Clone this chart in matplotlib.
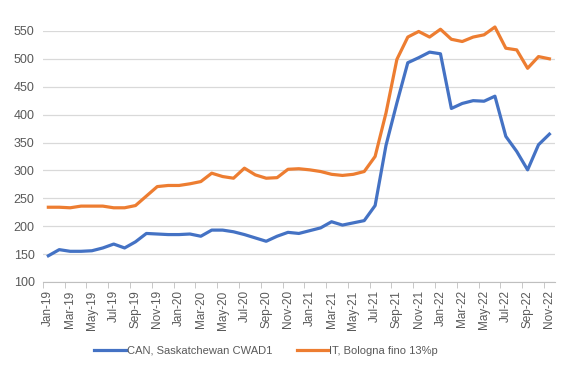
import matplotlib
matplotlib.use("Agg")
import matplotlib.pyplot as plt
import numpy as np

months = ["Jan-19","Feb-19","Mar-19","Apr-19","May-19","Jun-19","Jul-19","Aug-19","Sep-19","Oct-19","Nov-19","Dec-19",
          "Jan-20","Feb-20","Mar-20","Apr-20","May-20","Jun-20","Jul-20","Aug-20","Sep-20","Oct-20","Nov-20","Dec-20",
          "Jan-21","Feb-21","Mar-21","Apr-21","May-21","Jun-21","Jul-21","Aug-21","Sep-21","Oct-21","Nov-21","Dec-21",
          "Jan-22","Feb-22","Mar-22","Apr-22","May-22","Jun-22","Jul-22","Aug-22","Sep-22","Oct-22","Nov-22"]

can = [147,158,155,155,156,161,168,161,172,187,186,185,
       185,186,182,193,193,190,185,179,173,182,189,187,
       192,197,208,202,206,210,237,345,421,493,502,512,
       509,411,420,425,424,433,361,334,301,346,365]

it = [234,234,233,236,236,236,233,233,237,254,271,273,
      273,276,280,295,289,286,304,292,286,287,302,303,
      301,298,293,291,293,298,325,403,499,539,549,539,
      553,535,531,539,543,557,519,516,483,504,500]

series_names = ["CAN, Saskatchewan CWAD1", "IT, Bologna fino 13%p"]

plt.rcParams['font.family'] = ['Liberation Sans', 'DejaVu Sans']

fig = plt.figure(figsize=(5.72, 3.77), dpi=100)
ax = fig.add_axes([0.075, 0.252, 0.895, 0.666])
x = np.arange(len(months))
ax.plot(x, can, color="#4472C4", lw=2.3, label=series_names[0], solid_joinstyle="round", clip_on=False)
ax.plot(x, it, color="#ED7D31", lw=2.3, label=series_names[1], solid_joinstyle="round", clip_on=False)

ax.set_xlim(-0.5, len(months) - 0.5)
ax.set_ylim(100, 550)
ax.set_yticks(np.arange(100, 551, 50))
ax.yaxis.grid(True, color="#D9D9D9", lw=0.9)
ax.set_axisbelow(True)
ax.set_xticks(x[::2])
ax.set_xticklabels(months[::2], rotation=90)
ax.set_xticks(np.arange(-0.5, len(months), 2), minor=True)
ax.tick_params(axis="x", which="major", length=0, pad=6, labelsize=8.5, labelcolor="#595959")
ax.tick_params(axis="x", which="minor", length=4, color="#BFBFBF")
ax.tick_params(axis="y", length=0, labelsize=9, labelcolor="#595959", pad=6)
for s in ["top", "right", "left"]:
    ax.spines[s].set_visible(False)
ax.spines["bottom"].set_color("#BFBFBF")

fig.legend(loc="center", bbox_to_anchor=(0.465, 0.07), ncol=2, frameon=False,
           fontsize=8, labelcolor="#595959", handlelength=2.8, columnspacing=2.2, handletextpad=0.1)
fig.savefig("out.png", dpi=100)
